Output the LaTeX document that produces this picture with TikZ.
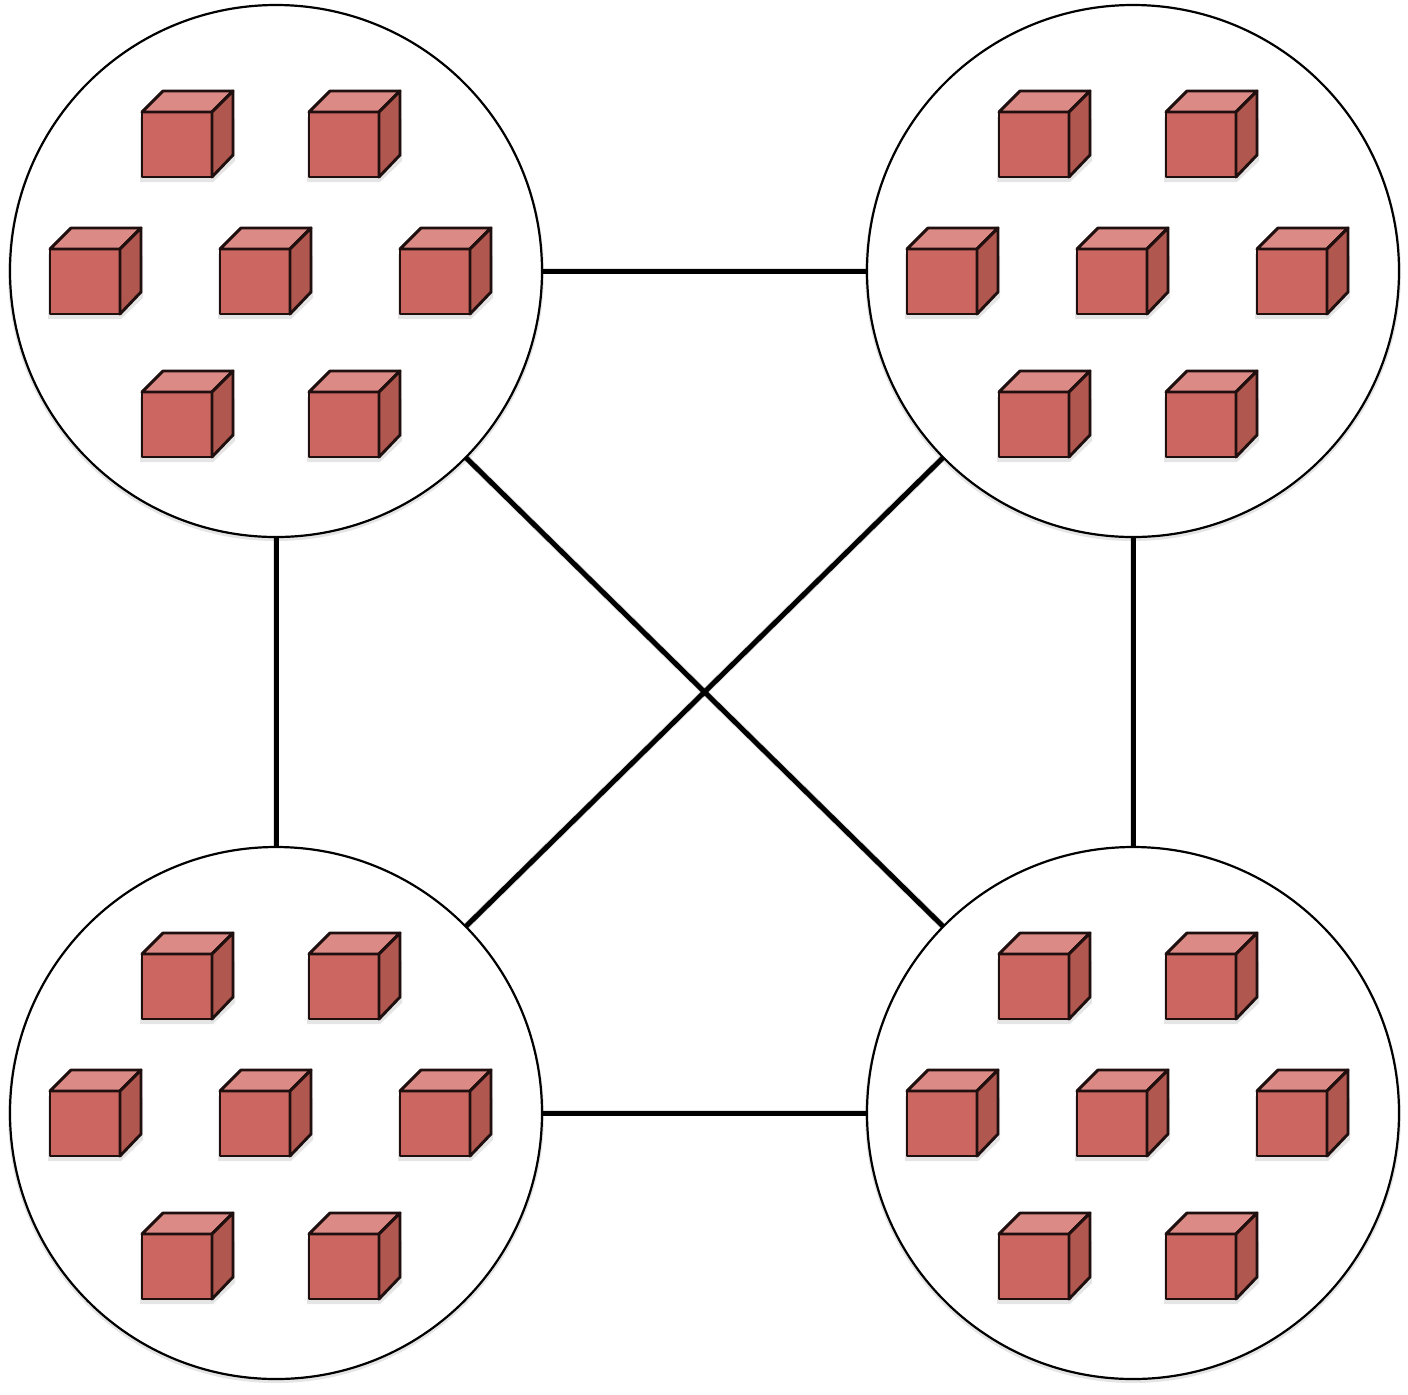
\documentclass[tikz,border=0pt]{standalone}
\definecolor{cubefront}{HTML}{CC6660}
\definecolor{cubetop}{HTML}{DB8A85}
\definecolor{cubeside}{HTML}{B0574F}
\tikzset{
  x=0.5pt,y=-0.5pt,
  cluster/.style={circle,draw=black,line width=1.1pt,fill=white,minimum size=266pt,inner sep=0pt,outer sep=0pt},
  link/.style={draw=black,line width=2.5pt},
  linkshadow/.style={draw=black,opacity=.12,line width=3.4pt,shift={(0,3)}},
  cubeline/.style={draw=black!85!cubefront,line width=1.45pt,line join=round},
  pics/cube/.style={code={
    \fill[black,opacity=.10] (-2,5)--(71,5)--(93,-16)--(93,-58)--(70,-60)--(-2,-60)--cycle;
    \filldraw[cubeline,fill=cubefront] (0,0) rectangle (70,-65);
    \filldraw[cubeline,fill=cubetop] (0,-65)--(21,-86)--(91,-86)--(70,-65)--cycle;
    \filldraw[cubeline,fill=cubeside] (70,0)--(91,-22)--(91,-86)--(70,-65)--cycle;
  }}
}
\begin{document}
\begin{tikzpicture}
\useasboundingbox (0,0) rectangle (1408,1394);
\fill[white] (0,0) rectangle (1408,1394);
% clusters
\foreach \n/\cx/\cy in {a/276/271,b/1133/271,c/276/1113,d/1133/1113}{
  \fill[black,opacity=.10] (\cx,\cy+2) circle[radius=268];
  \node[cluster] (\n) at (\cx,\cy) {};
  \foreach \px/\py in {142/177,309/177,50/314,220/314,400/314,142/457,309/457}{
    \pic at ({\px+\cx-276},{\py+\cy-271}) {cube};
  }
}
% connectors
\foreach \p/\q in {a/b,c/d,a/c,b/d,a/d,b/c}{
  \path[linkshadow] (\p) -- (\q);
  \path[link] (\p) -- (\q);
}
\end{tikzpicture}
\end{document}
